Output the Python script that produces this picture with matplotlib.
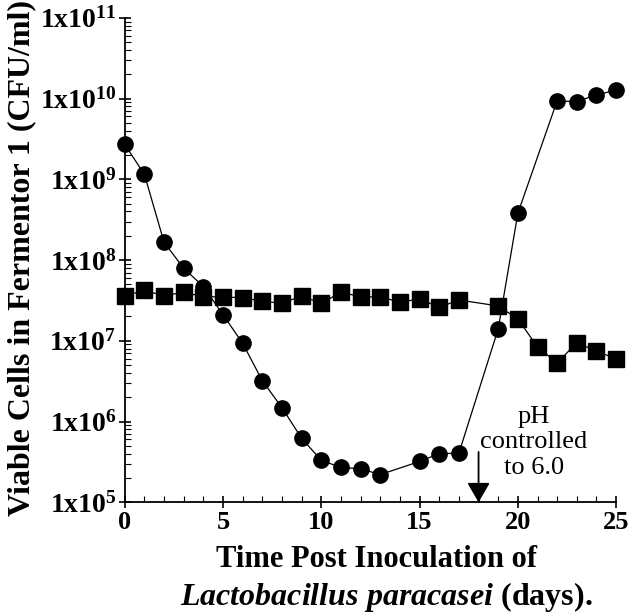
import matplotlib
matplotlib.use("Agg")
import matplotlib.pyplot as plt
from matplotlib.ticker import FixedLocator, LogLocator, NullFormatter, MultipleLocator

# Data
circle_days = [0, 1, 2, 3, 4, 5, 6, 7, 8, 9, 10, 11, 12, 13, 15, 16, 17, 19, 20, 22, 23, 24, 25]
circle_cfu = [2.7e9, 1.15e9, 1.66e8, 7.9e7, 4.7e7, 2.1e7, 9.3e6, 3.2e6, 1.48e6, 6.2e5, 3.3e5,
              2.7e5, 2.6e5, 2.2e5, 3.2e5, 4.0e5, 4.05e5, 1.4e7, 3.8e8, 9.4e9, 9.1e9, 1.12e10, 1.26e10]
square_days = [0, 1, 2, 3, 4, 5, 6, 7, 8, 9, 10, 11, 12, 13, 14, 15, 16, 17, 19, 20, 21, 22, 23, 24, 25]
square_cfu = [3.6e7, 4.2e7, 3.6e7, 4.0e7, 3.5e7, 3.5e7, 3.4e7, 3.1e7, 2.9e7, 3.6e7, 2.9e7, 4.0e7,
              3.5e7, 3.5e7, 3.0e7, 3.3e7, 2.6e7, 3.2e7, 2.7e7, 1.86e7, 8.4e6, 5.3e6, 9.5e6, 7.4e6, 6.0e6]
ytick_vals = [1e5, 1e6, 1e7, 1e8, 1e9, 1e10, 1e11]
ytick_labels = [r"1x10$^{5}$", r"1x10$^{6}$", r"1x10$^{7}$", r"1x10$^{8}$", r"1x10$^{9}$", r"1x10$^{10}$", r"1x10$^{11}$"]
xtick_vals = [0, 5, 10, 15, 20, 25]
annot_day = 18

plt.rcParams['font.family'] = ['Liberation Serif', 'DejaVu Serif']
plt.rcParams['mathtext.fontset'] = 'custom'
plt.rcParams['mathtext.rm'] = 'Liberation Serif:bold'
plt.rcParams['mathtext.it'] = 'Liberation Serif:italic:bold'
plt.rcParams['mathtext.bf'] = 'Liberation Serif:bold'

fig = plt.figure(figsize=(6.3, 6.14), dpi=100)
ax = fig.add_axes([0.198, 0.182, 0.78, 0.789])

ax.plot(circle_days, circle_cfu, color='black', lw=0.9, marker='o', ms=11, clip_on=False, zorder=3)
ax.plot(square_days, square_cfu, color='black', lw=0.9, marker='s', ms=12, clip_on=False, zorder=3)

ax.set_yscale('log')
ax.set_ylim(1e5, 1e11)
ax.set_xlim(0, 25)

ax.yaxis.set_major_locator(FixedLocator(ytick_vals))
ax.set_yticklabels(ytick_labels, fontsize=20, fontweight='bold')
ax.yaxis.set_minor_locator(LogLocator(base=10, subs=range(2, 10), numticks=20))
ax.yaxis.set_minor_formatter(NullFormatter())

ax.set_xticks(xtick_vals)
ax.set_xticklabels([str(v) for v in xtick_vals], fontsize=19, fontweight='bold')
ax.xaxis.set_minor_locator(MultipleLocator(1))

for s in ['top', 'right']:
    ax.spines[s].set_visible(False)
for s in ['left', 'bottom']:
    ax.spines[s].set_linewidth(1.3)

ax.tick_params(which='major', direction='inout', length=8, width=1.2, pad=2)
ax.tick_params(which='minor', direction='in', length=4, width=0.8)

fig.text(0.035, 0.58, "Viable Cells in Fermentor 1 (CFU/ml)", rotation=90, fontsize=23,
         fontweight='bold', ha='center', va='center')
fig.text(0.597, 0.088, "Time Post Inoculation of", fontsize=22, fontweight='bold',
         ha='center', va='center')
fig.text(0.613, 0.027, r"$\mathit{Lactobacillus\ paracasei}$" + " (days).", fontsize=23,
         fontweight='bold', ha='center', va='center')

ax.annotate("", xy=(annot_day, 1e5), xytext=(annot_day, 4.2e5),
            arrowprops=dict(arrowstyle='-|>,head_length=0.6,head_width=0.35', color='black', lw=1.3,
                            mutation_scale=20, shrinkA=0, shrinkB=0))
ax.text(20.8, 5.5e5, "pH\ncontrolled\nto 6.0", ha='center', va='center', fontsize=19, linespacing=1.22)

fig.savefig("out.png", dpi=100)
